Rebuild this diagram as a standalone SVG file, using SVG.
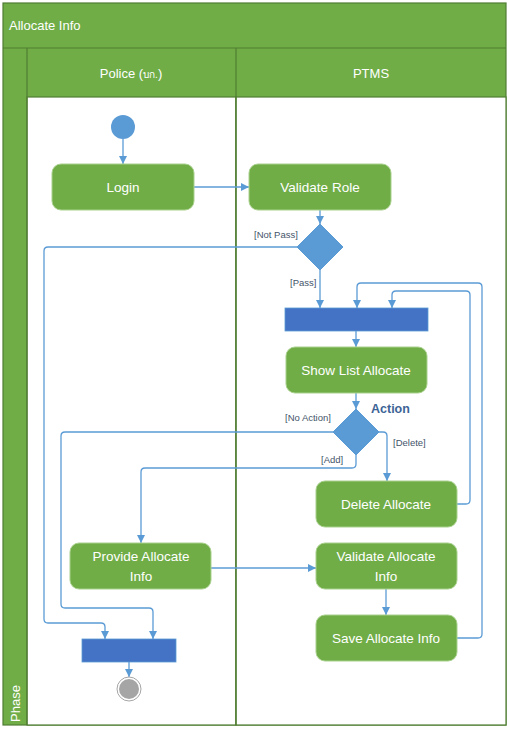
<svg xmlns="http://www.w3.org/2000/svg" width="507" height="732" viewBox="0 0 507 732">
<style>
.lane{fill:#70ad47;stroke:#507e32;stroke-width:1.2}
.body{fill:#ffffff;stroke:#507e32;stroke-width:1.2}
.hdr{font-family:"Liberation Sans",Arial,sans-serif;font-size:13px;fill:#ffffff}
.node{fill:#70ad47;stroke:#a9d18e;stroke-width:1}
.ntext{font-family:"Liberation Sans",Arial,sans-serif;font-size:13.5px;fill:#ffffff;text-anchor:middle}
.conn{fill:none;stroke:#5b9bd5;stroke-width:1.3}
.lbl{font-family:"Liberation Sans",Arial,sans-serif;font-size:9.5px;fill:#44546a}
.bar{fill:#4472c4;stroke:#5b9bd5;stroke-width:0.8}
.dec{fill:#5b9bd5;stroke:#5b9bd5;stroke-width:1}
</style>
<defs>
<marker id="arr" markerWidth="9" markerHeight="9" refX="8" refY="4" orient="auto" markerUnits="userSpaceOnUse">
<path d="M0,0 L8,4 L0,8 z" fill="#5b9bd5"/>
</marker>
</defs>
<g id="pool">
<rect x="3" y="3" width="503" height="722" class="lane"/>
<rect x="27" y="97" width="209" height="628" class="body"/>
<rect x="236" y="97" width="270" height="628" class="body"/>
<line x1="3" y1="48" x2="506" y2="48" stroke="#507e32" stroke-width="1.2"/>
<line x1="27" y1="48" x2="27" y2="725" stroke="#507e32" stroke-width="1.2"/>
<line x1="236" y1="48" x2="236" y2="725" stroke="#507e32" stroke-width="1.2"/>
<text x="9" y="30" class="hdr" font-size="14">Allocate Info</text>
<text x="131" y="78" class="hdr" text-anchor="middle">Police (<tspan font-size="10">บก.</tspan>)</text>
<text x="371" y="78" class="hdr" text-anchor="middle">PTMS</text>
<text transform="translate(20,722) rotate(-90)" class="hdr">Phase</text>
</g>
<g id="connectors">
<line x1="123" y1="139" x2="123" y2="164" class="conn" marker-end="url(#arr)"/>
<line x1="194" y1="187" x2="249" y2="187" class="conn" marker-end="url(#arr)"/>
<line x1="320" y1="210" x2="320" y2="224" class="conn" marker-end="url(#arr)"/>
<line x1="320" y1="270" x2="320" y2="308" class="conn" marker-end="url(#arr)"/>
<path d="M297,247 H48 Q44,247 44,251 V619 Q44,623 48,623 H101 Q105,623 105,627 V639" class="conn" marker-end="url(#arr)"/>
<line x1="356" y1="331" x2="356" y2="347" class="conn" marker-end="url(#arr)"/>
<line x1="356" y1="393" x2="356" y2="409" class="conn" marker-end="url(#arr)"/>
<path d="M333,432 H65 Q61,432 61,436 V604 Q61,608 65,608 H149 Q153,608 153,612 V639" class="conn" marker-end="url(#arr)"/>
<path d="M356,455 V464 Q356,468 352,468 H145 Q141,468 141,472 V543" class="conn" marker-end="url(#arr)"/>
<path d="M379,432 H383 Q387,432 387,436 V481" class="conn" marker-end="url(#arr)"/>
<path d="M457,504 H466 Q470,504 470,500 V295 Q470,291 466,291 H396 Q392,291 392,295 V308" class="conn" marker-end="url(#arr)"/>
<path d="M457,638 H478 Q482,638 482,634 V287 Q482,283 478,283 H361 Q357,283 357,287 V308" class="conn" marker-end="url(#arr)"/>
<line x1="211" y1="568" x2="316" y2="568" class="conn" marker-end="url(#arr)"/>
<line x1="386" y1="589" x2="386" y2="615" class="conn" marker-end="url(#arr)"/>
<line x1="129" y1="662" x2="129" y2="677" class="conn" marker-end="url(#arr)"/>
<text x="254" y="238" class="lbl">[Not Pass]</text>
<text x="290" y="286" class="lbl">[Pass]</text>
<text x="285" y="421" class="lbl">[No Action]</text>
<text x="393" y="446" class="lbl">[Delete]</text>
<text x="321" y="463" class="lbl">[Add]</text>
</g>
<g id="start"><circle cx="123" cy="127" r="12" fill="#5b9bd5"/></g>
<g id="login"><rect x="52" y="164" width="142" height="46" rx="9" class="node"/><text x="123" y="192" class="ntext">Login</text></g>
<g id="validate-role"><rect x="249" y="164" width="142" height="46" rx="9" class="node"/><text x="320" y="192" class="ntext">Validate Role</text></g>
<g id="decision-pass"><polygon points="320,224 343,247 320,270 297,247" class="dec"/></g>
<g id="fork-bar"><rect x="285" y="308" width="143" height="23" class="bar"/></g>
<g id="show-list"><rect x="286" y="347" width="141" height="46" rx="9" class="node"/><text x="356" y="375" class="ntext">Show List Allocate</text></g>
<g id="decision-action"><polygon points="356,409 379,432 356,455 333,432" class="dec"/><text x="371" y="413" font-family="Liberation Sans,Arial,sans-serif" font-size="12.5" font-weight="bold" fill="#3d6496">Action</text></g>
<g id="delete-allocate"><rect x="316" y="481" width="141" height="46" rx="9" class="node"/><text x="386" y="509" class="ntext">Delete Allocate</text></g>
<g id="provide-allocate"><rect x="70" y="543" width="141" height="46" rx="9" class="node"/><text x="141" y="561" class="ntext">Provide Allocate</text><text x="141" y="581" class="ntext">Info</text></g>
<g id="validate-allocate"><rect x="316" y="543" width="141" height="46" rx="9" class="node"/><text x="386" y="561" class="ntext">Validate Allocate</text><text x="386" y="581" class="ntext">Info</text></g>
<g id="save-allocate"><rect x="316" y="615" width="141" height="46" rx="9" class="node"/><text x="386" y="643" class="ntext">Save Allocate Info</text></g>
<g id="join-bar"><rect x="82" y="639" width="94" height="23" class="bar"/></g>
<g id="end"><circle cx="129" cy="689" r="12" fill="#ffffff" stroke="#a5a5a5" stroke-width="1"/><circle cx="129" cy="689" r="10" fill="#a5a5a5"/></g>
</svg>
